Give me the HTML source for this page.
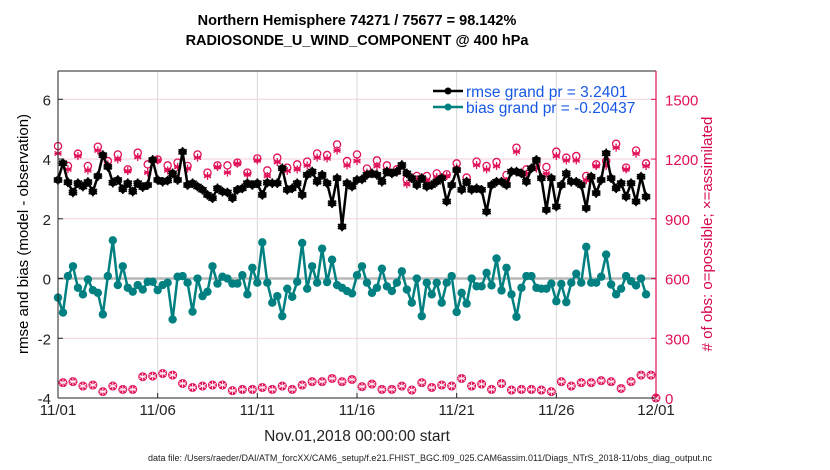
<!DOCTYPE html>
<html><head><meta charset="utf-8"><style>
body{margin:0;background:#fff;}
svg{display:block;font-family:"Liberation Sans",Arial,sans-serif;}
</style></head><body>
<svg id="chart" width="830" height="470" viewBox="0 0 830 470">
<text x="357" y="25" text-anchor="middle" font-size="14.5" font-weight="bold">Northern Hemisphere 74271 / 75677 = 98.142%</text>
<text x="357" y="45" text-anchor="middle" font-size="14.5" font-weight="bold">RADIOSONDE_U_WIND_COMPONENT @ 400 hPa</text>
<g id="grid"></g>
<g id="marks"></g>
<g id="axes"></g>
<text transform="translate(28,234) rotate(-90)" text-anchor="middle" font-size="15">rmse and bias (model - observation)</text>
<text transform="translate(712,234) rotate(-90)" text-anchor="middle" font-size="15" fill="#d6074f"># of obs: o=possible; ×=assimilated</text>
<text x="357" y="441" text-anchor="middle" font-size="15.5" fill="#222">Nov.01,2018 00:00:00 start</text>
<text x="430" y="461" text-anchor="middle" font-size="9" fill="#222">data file: /Users/raeder/DAI/ATM_forcXX/CAM6_setup/f.e21.FHIST_BGC.f09_025.CAM6assim.011/Diags_NTrS_2018-11/obs_diag_output.nc</text>
<g>
<line x1="433" y1="91" x2="463" y2="91" stroke="#000" stroke-width="2.5"/>
<circle cx="448" cy="91" r="3.5" fill="#000"/>
<text x="466" y="97" font-size="15.5" fill="#1658e6">rmse grand pr = 3.2401</text>
<line x1="433" y1="107" x2="463" y2="107" stroke="#008080" stroke-width="2.5"/>
<circle cx="448" cy="107" r="3.5" fill="#008080"/>
<text x="466" y="113" font-size="15.5" fill="#1658e6">bias grand pr = -0.20437</text>
</g>
</svg>
<script>
const rmse=[3.3,3.86,3.22,2.88,3.19,3.08,3.23,2.91,3.43,4.13,3.74,3.21,3.3,2.99,3.19,2.91,3.19,3.06,3.13,3.97,3.3,3.24,3.28,3.52,3.3,4.24,3.13,3.19,3.08,2.97,2.8,2.69,3.02,2.91,2.88,2.69,2.97,3.02,3.19,3.13,3.19,2.8,
3.21,3.19,3.19,3.69,2.97,3.02,3.19,2.8,3.47,3.58,3.24,3.47,3.19,2.52,3.36,1.74,3.19,3.08,3.3,3.32,3.47,3.52,3.47,3.24,3.58,3.52,3.58,3.8,3.52,3.36,3.13,3.36,3.08,3.13,3.24,3.36,2.58,3.13,3.63,
2.97,3.24,2.97,3.02,2.97,2.24,3.13,3.24,3.24,3.13,3.58,3.58,3.52,3.24,3.69,3.97,3.36,2.3,3.36,2.41,3.13,3.52,3.24,3.24,3.13,2.36,3.41,2.86,3.3,4.19,3.36,3.02,3.19,2.74,3.19,2.58,3.41,2.74];
const bias=[-0.64,-1.14,0.08,0.41,-0.31,-0.53,-0.03,-0.39,-0.48,-1.2,0.08,1.28,-0.22,0.41,-0.31,-0.44,-0.22,-0.37,-0.11,-0.11,-0.39,-0.22,-0.14,-1.37,0.06,0.08,-0.14,-1.11,0.0,-0.59,-0.44,0.41,-0.17,0.06,0.0,-0.17,-0.17,0.11,-0.53,0.36,-0.14,1.21,
-0.14,-0.81,-0.59,-1.26,-0.34,-0.61,-0.11,1.19,-0.34,0.41,-0.14,1.0,-0.12,0.63,-0.22,-0.31,-0.42,-0.5,0.11,0.41,-0.14,-0.48,-0.31,0.33,-0.26,-0.42,-0.14,0.24,-0.37,-0.81,0.0,-1.26,-0.14,-0.53,-0.14,-0.81,-0.14,0.08,-1.12,
-0.48,-0.84,0.0,-0.26,-0.26,0.19,-0.23,0.67,-0.4,0.36,-0.53,-1.28,-0.31,0.08,0.08,-0.31,-0.34,-0.34,-0.17,-0.76,-0.18,-0.79,-0.14,0.16,-0.14,1.06,-0.14,-0.14,0.06,0.8,-0.2,-0.53,-0.34,0.08,-0.09,-0.23,0.0,-0.53];
const possibleHigh=[1265,1165,1227,1165,1262,1190,1223,1148,1232,1173,1198,1168,1182,1165,1223,1132,1168,1168,1182,1132,1203,
1143,1207,1157,1173,1187,1228,1220,1273,1190,1223,1152,1193,1168,1148,1098,1115,1115,1128,1123,1178,
1107,1187,1165,1185,1120,1257,1148,1173,1160,1237,1207,1215,1115,1173,1190,1277,1157,1243,1178];
const assimHigh=[1228,1148,1215,1143,1243,1173,1198,1140,1210,1132,1193,1143,1160,1152,1207,1115,1160,1132,1177,1123,1193,
1115,1185,1140,1148,1168,1207,1203,1243,1168,1190,1132,1165,1143,1132,1073,1098,1090,1110,1115,1157,
1090,1170,1148,1165,1090,1237,1127,1152,1127,1215,1193,1193,1093,1165,1165,1257,1148,1227,1165];
const obsLow=[77,82,60,65,32,60,43,43,107,110,123,115,73,53,60,65,65,37,43,43,53,43,60,43,65,82,82,98,82,93,
57,70,43,43,60,40,77,53,65,60,98,60,70,43,73,40,43,43,40,32,82,60,77,77,87,82,48,82,115,115];
const obsEnd=[0];
const xTicks=['11/01','11/06','11/11','11/16','11/21','11/26','12/01'];
const yLeftTicks=[-4,-2,0,2,4,6];
const yRightTicks=[0,300,600,900,1200,1500];

const NS='http://www.w3.org/2000/svg';
const X0=58,X1=656,Y0=398,YT=71;
const xDay=d=>X0+(X1-X0)*d/30;
const xStep=i=>xDay(i/4);
const yL=v=>Y0-(v+4)*(Y0-99.3)/10;
const yR=n=>Y0-n*(Y0-99.3)/1500;
function el(tag,attrs,parent){const e=document.createElementNS(NS,tag);for(const k in attrs)e.setAttribute(k,attrs[k]);parent.appendChild(e);return e;}
const grid=document.getElementById('grid'),marks=document.getElementById('marks'),axes=document.getElementById('axes');
const RED='#e0105a';
xTicks.forEach((t,k)=>{const x=xDay(k*5);
 if(k>0&&k<6){const g=el('line',{x1:x,y1:YT,x2:x,y2:Y0,stroke:'#d8d8d8','stroke-width':1},grid);
 
 }
 el('line',{x1:x,y1:Y0,x2:x,y2:Y0-5,stroke:'#222'},axes);
 const tx=el('text',{x:x,y:Y0+17,'text-anchor':'middle','font-size':15,fill:'#222'},axes);tx.textContent=t;
 
 
});
yRightTicks.forEach(n=>{const y=yR(n);
 if(n>0){const g=el('line',{x1:X0,y1:y,x2:X1,y2:y,stroke:'#f2d2de','stroke-width':1},grid);
 
 }
 el('line',{x1:X1,y1:y,x2:X1-5,y2:y,stroke:RED},axes);
 const tx=el('text',{x:X1+9,y:y+6,'font-size':15,fill:RED},axes);tx.textContent=n;
 
 
});
yLeftTicks.forEach(v=>{const y=yL(v);
 el('line',{x1:X0,y1:y,x2:X0+5,y2:y,stroke:'#222'},axes);
 const tx=el('text',{x:X0-7,y:y+6,'text-anchor':'end','font-size':15,fill:'#222'},axes);tx.textContent=v;
 
 
});
const z=el('line',{x1:X0,y1:yL(0),x2:X1,y2:yL(0),stroke:'#b8b8b8','stroke-width':2.5},grid);


el('line',{x1:X0,y1:YT,x2:X1,y2:YT,stroke:'#222'},axes);
el('line',{x1:X0,y1:Y0,x2:X1,y2:Y0,stroke:'#222'},axes);
el('line',{x1:X0,y1:YT,x2:X0,y2:Y0,stroke:'#222'},axes);
el('line',{x1:X1,y1:YT,x2:X1,y2:Y0,stroke:RED,'stroke-width':1.2},axes);

function star(x,y,r,col,parent){const g=el('g',{stroke:col,'stroke-width':1.3},parent);
 for(let a=0;a<3;a++){const t=a*Math.PI/3+Math.PI/2;el('line',{x1:x-r*Math.cos(t),y1:y-r*Math.sin(t),x2:x+r*Math.cos(t),y2:y+r*Math.sin(t)},g);}
 el('line',{x1:x-r*0.9,y1:y,x2:x+r*0.9,y2:y},g);return g;}
possibleHigh.forEach((n,k)=>{const c=el('circle',{cx:xStep(2*k),cy:yR(n),r:3.6,fill:'none',stroke:RED,'stroke-width':1.3},marks);
 
 });
assimHigh.forEach((n,k)=>{const s=star(xStep(2*k),yR(n),4,RED,marks);
 
 });
obsLow.concat(obsEnd).forEach((n,k)=>{const i=k<obsLow.length?2*k+1:120;const x=xStep(i),y=yR(n);
 const c=el('circle',{cx:x,cy:y,r:4.5,fill:RED},marks);
 
 
 const s=star(x,y,3.8,'#fff',marks);s.setAttribute('stroke-width','0.8');
 
 });
function series(data,col,name,r){
 const p=el('polyline',{points:data.map((v,i)=>xStep(i)+','+yL(v)).join(' '),fill:'none',stroke:col,'stroke-width':2.5,'stroke-linejoin':'round'},marks);
 
 
 data.forEach((v,i)=>{const c=el('circle',{cx:xStep(i),cy:yL(v),r:r,fill:col},marks);
  
  
  if(name==='rmse'){star(xStep(i),yL(v),4.8,col,marks).setAttribute('stroke-width','1.6');}
 });
}
series(bias,'#008080','bias',4.2);
series(rmse,'#000','rmse',3.8);
</script>
</body></html>
